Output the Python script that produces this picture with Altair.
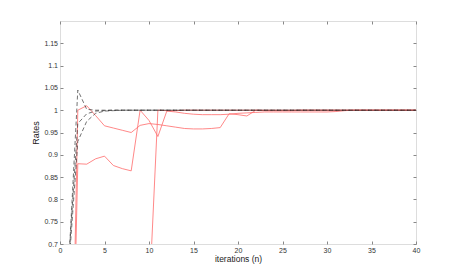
import altair as alt
import pandas as pd

iterations = list(range(1, 41))

# red solid series
red_a = [0.0, 1.0, 1.01, 0.988, 0.965, 0.96, 0.955, 0.95, 0.966, 0.97,
         0.968, 0.965, 0.962, 0.959, 0.958, 0.958, 0.959, 0.961, 0.992, 0.99,
         0.987, 1.0, 0.999, 0.999, 0.999, 0.999, 1.0, 1.0, 1.0, 1.0,
         1.0, 1.0, 1.0, 1.0, 1.0, 1.0, 1.0, 1.0, 1.0, 1.0]
red_b = [0.0, 0.88, 0.879, 0.891, 0.897, 0.876, 0.869, 0.864, 1.0, 0.977,
         0.941, 0.998, 0.996, 0.993, 0.991, 0.99, 0.99, 0.99, 0.991, 0.993,
         0.994, 0.995, 0.996, 0.996, 0.996, 0.996, 0.996, 0.996, 0.996, 0.996,
         0.997, 0.999, 1.0, 1.0, 1.0, 1.0, 1.0, 1.0, 1.0, 1.0]
red_c = [0.0, 0.5, 0.52, 0.53, 0.54, 0.55, 0.55, 0.56, 0.56, 0.57,
         1.0, 0.999, 0.999, 1.0, 1.0, 1.0, 1.0, 1.0, 1.0, 1.0,
         1.0, 1.0, 1.0, 1.0, 1.0, 1.0, 1.0, 1.0, 1.0, 1.0,
         1.0, 1.0, 1.0, 1.0, 1.0, 1.0, 1.0, 1.0, 1.0, 1.0]

# black dashed series
black_a = [0.66, 1.045, 1.002, 1.0, 1.0, 1.0, 1.0, 1.0, 1.0, 1.0,
           1.0, 1.0, 1.0, 1.0, 1.0, 1.0, 1.0, 1.0, 1.0, 1.0,
           1.0, 1.0, 1.0, 1.0, 1.0, 1.0, 1.0, 1.0, 1.0, 1.0,
           1.0, 1.0, 1.0, 1.0, 1.0, 1.0, 1.0, 1.0, 1.0, 1.0]
black_b = [0.67, 0.97, 0.992, 0.998, 0.999, 1.0, 1.0, 1.0, 1.0, 1.0,
           1.0, 1.0, 1.0, 1.0, 1.0, 1.0, 1.0, 1.0, 1.0, 1.0,
           1.0, 1.0, 1.0, 1.0, 1.0, 1.0, 1.0, 1.0, 1.0, 1.0,
           1.0, 1.0, 1.0, 1.0, 1.0, 1.0, 1.0, 1.0, 1.0, 1.0]
black_c = [0.65, 0.93, 0.975, 0.993, 0.998, 0.999, 1.0, 1.0, 1.0, 1.0,
           1.0, 1.0, 1.0, 1.0, 1.0, 1.0, 1.0, 1.0, 1.0, 1.0,
           1.0, 1.0, 1.0, 1.0, 1.0, 1.0, 1.0, 1.0, 1.0, 1.0,
           1.0, 1.0, 1.0, 1.0, 1.0, 1.0, 1.0, 1.0, 1.0, 1.0]

x_ticks = [0, 5, 10, 15, 20, 25, 30, 35, 40]
y_ticks = [0.7, 0.75, 0.8, 0.85, 0.9, 0.95, 1.0, 1.05, 1.1, 1.15]

series = [("ra", red_a, "red"), ("rb", red_b, "red"), ("rc", red_c, "red"),
          ("ba", black_a, "black"), ("bb", black_b, "black"), ("bc", black_c, "black")]
rows = []
for name, vals, kind in series:
    for i, v in zip(iterations, vals):
        rows.append({"n": i, "v": v, "series": name, "kind": kind})
df = pd.DataFrame(rows)

FONT = "Liberation Sans"
AX = "#888888"
x_scale = alt.Scale(domain=[0, 40], nice=False, zero=False)
y_scale = alt.Scale(domain=[0.7, 1.2], nice=False, zero=False)

x_bottom = alt.Axis(orient="bottom", values=x_ticks, offset=-3, tickSize=3, domain=False,
                    tickColor=AX, labelColor="#333333", labelFont=FONT, labelFontSize=7,
                    labelPadding=2, grid=False, title="iterations (n)", titleFont=FONT,
                    titleFontSize=8.5, titleFontWeight="normal", titleColor="#222222",
                    titlePadding=1, labelFlush=False)
y_left = alt.Axis(orient="left", values=y_ticks, offset=-3, tickSize=3, domain=False,
                  tickColor=AX, labelColor="#333333", labelFont=FONT, labelFontSize=7,
                  labelPadding=2.5, grid=False, format=".2~f", title="Rates", titleFont=FONT,
                  titleFontSize=9, titleFontWeight="normal", titleColor="#222222",
                  titlePadding=3, labelFlush=False)
x_top = alt.Axis(orient="top", values=x_ticks, offset=-3, tickSize=3, domain=False,
                 tickColor=AX, labels=False, grid=False, title=None)
y_right = alt.Axis(orient="right", values=y_ticks, offset=-3, tickSize=3, domain=False,
                   tickColor=AX, labels=False, grid=False, title=None)

base = alt.Chart(df)

red = base.transform_filter(alt.datum.kind == "red").mark_line(
    clip=True, color="#ff6a6a", strokeWidth=0.8
).encode(
    x=alt.X("n:Q", scale=x_scale, axis=x_bottom),
    y=alt.Y("v:Q", scale=y_scale, axis=y_left),
    detail="series:N",
)

black = base.transform_filter(alt.datum.kind == "black").mark_line(
    clip=True, color="#222222", strokeWidth=0.8, strokeDash=[4, 2.5], strokeOpacity=0.8
).encode(
    x=alt.X("n:Q", scale=x_scale, axis=x_top),
    y=alt.Y("v:Q", scale=y_scale, axis=y_right),
    detail="series:N",
)

chart = alt.layer(red, black).resolve_axis(x="independent", y="independent").properties(
    width=356, height=223,
    autosize=alt.AutoSizeParams(type="none"),
    padding={"left": 52, "top": 13, "right": 36, "bottom": 23},
).configure_view(stroke=AX, strokeWidth=1).configure(background="white")

chart.save("out.html", embed_options={"renderer": "svg", "actions": False})
